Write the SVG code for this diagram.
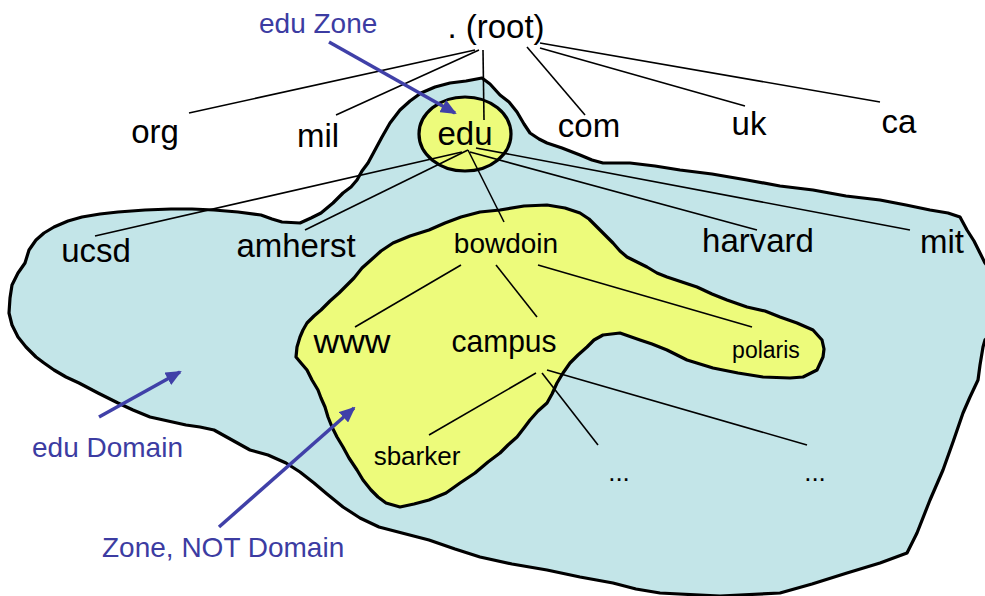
<svg xmlns="http://www.w3.org/2000/svg" width="985" height="596" viewBox="0 0 985 596">
<style>
.lbl{font-family:"Liberation Sans",Arial,sans-serif;font-size:33px;fill:#000;text-anchor:middle}
.in{font-family:"Liberation Sans",Arial,sans-serif;fill:#000;text-anchor:middle}
.note{font-family:"Liberation Sans",Arial,sans-serif;font-size:28px;fill:#3C3CA2}
.edge{stroke:#000;stroke-width:1.6;fill:none}
.arrow{stroke:#4040A8;stroke-width:3.5;fill:none;marker-end:url(#ah)}
.region{stroke:#000;stroke-width:3.2;stroke-linejoin:round}
</style>
<defs>
<marker id="ah" markerUnits="userSpaceOnUse" markerWidth="16" markerHeight="14" refX="14" refY="7" orient="auto">
<path d="M0,0 L16,7 L0,14 Z" fill="#4040A8"/>
</marker>
</defs>
<rect width="985" height="596" fill="#fff"/>
<g id="edu-domain">
<path class="region" fill="#C3E5E8" d="M482,78 L490,84 L500,95 L509,102 L517,112 L524,124 L530,133 L539,139 L547,143 L562,148 L580,155 L592,160 L603,163 L630,163 L655,166 L680,170 L712,174 L747,180 L780,186 L813,190 L846,196 L880,200 L906,205 L930,210 L948,213 L960,217 L967,230 L974,241 L980,253 L985,263 L995,275 L995,330 L985,340 L983,347 L980,365 L978,380 L970,397 L963,413 L953,442 L943,470 L930,500 L917,533 L907,553 L880,563 L847,573 L812,584 L780,593 L720,596 L660,593 L636,589 L613,583 L580,577 L547,570 L512,564 L480,557 L455,549 L429,540 L402,533 L379,527 L360,518 L343,507 L327,494 L314,483 L300,472 L286,463 L268,455 L250,450 L232,440 L214,430 L200,427 L186,425 L168,421 L150,417 L133,410 L118,403 L98,393 L79,383 L66,377 L54,370 L44,363 L36,357 L26,347 L18,337 L12,325 L9,313 L10,298 L12,285 L18,273 L25,263 L29,250 L36,240 L44,233 L54,227 L68,221 L82,217 L100,214 L118,212 L145,210 L171,209 L192,209 L214,210 L238,212 L261,215 L272,219 L282,222 L300,223 L311,218 L321,213 L333,203 L343,193 L351,187 L357,180 L362,171 L368,163 L375,150 L382,137 L390,123 L400,110 L410,101 L421,93 L435,87 L450,83 L466,81 Z"/>
</g>
<g id="bowdoin-zone">
<path class="region" fill="#EDFB7B" d="M296,357 L297,347 L300,337 L303,330 L307,323 L314,316 L321,310 L330,301 L339,293 L347,285 L354,278 L362,268 L371,260 L381,251 L393,243 L410,236 L429,230 L445,223 L461,217 L480,212 L500,210 L524,206 L547,205 L565,208 L580,213 L589,219 L597,227 L605,235 L613,243 L620,251 L627,257 L637,262 L647,267 L657,273 L667,277 L682,282 L697,287 L712,294 L727,300 L747,307 L765,311 L780,317 L797,323 L813,330 L822,340 L824,349 L823,357 L817,370 L803,377 L790,378 L763,377 L738,373 L713,368 L700,364 L687,360 L667,350 L652,344 L640,340 L620,333 L603,335 L594,340 L587,347 L578,355 L570,363 L563,373 L557,383 L552,394 L547,403 L538,411 L530,420 L524,428 L517,437 L508,445 L500,453 L488,462 L475,473 L460,483 L446,493 L429,500 L414,504 L400,507 L386,503 L378,497 L371,490 L363,480 L357,470 L349,458 L343,447 L337,437 L332,427 L328,417 L325,407 L321,398 L318,390 L312,380 L307,370 L301,363 Z"/>
</g>
<g id="edu-zone">
<ellipse class="region" fill="#EDFB7B" cx="465" cy="134" rx="46" ry="37"/>
</g>
<g id="connectors">
<line class="edge" x1="475" y1="50" x2="189" y2="113"/>
<line class="edge" x1="479" y1="50" x2="336" y2="115"/>
<line class="edge" x1="483" y1="50" x2="484" y2="120"/>
<line class="edge" x1="527" y1="47" x2="585" y2="115"/>
<line class="edge" x1="540" y1="48" x2="745" y2="106"/>
<line class="edge" x1="540" y1="43" x2="880" y2="102"/>
<line class="edge" x1="462" y1="152" x2="95" y2="236"/>
<line class="edge" x1="468" y1="150" x2="305" y2="230"/>
<line class="edge" x1="468" y1="150" x2="504" y2="222"/>
<line class="edge" x1="470" y1="152" x2="757" y2="230"/>
<line class="edge" x1="476" y1="148" x2="910" y2="230"/>
<line class="edge" x1="461" y1="265" x2="355" y2="327"/>
<line class="edge" x1="496" y1="265" x2="537" y2="317"/>
<line class="edge" x1="538" y1="265" x2="752" y2="327"/>
<line class="edge" x1="536" y1="373" x2="429" y2="435"/>
<line class="edge" x1="542" y1="373" x2="598" y2="445"/>
<line class="edge" x1="547" y1="370" x2="807" y2="445"/>
</g>
<g id="root"><text class="lbl" x="496" y="38" font-size="34">. (root)</text></g>
<g id="org"><text class="lbl" x="155" y="143">org</text></g>
<g id="mil"><text class="lbl" x="318" y="147">mil</text></g>
<g id="edu"><text class="lbl" x="465" y="145">edu</text></g>
<g id="com"><text class="lbl" x="589" y="137">com</text></g>
<g id="uk"><text class="lbl" x="749" y="135">uk</text></g>
<g id="ca"><text class="lbl" x="899" y="133">ca</text></g>
<g id="ucsd"><text class="lbl" x="96" y="262">ucsd</text></g>
<g id="amherst"><text class="lbl" x="296" y="257">amherst</text></g>
<g id="harvard"><text class="lbl" x="758" y="252">harvard</text></g>
<g id="mit"><text class="lbl" x="942" y="253">mit</text></g>
<g id="bowdoin"><text class="in" x="506" y="253" font-size="28">bowdoin</text></g>
<g id="www"><text class="in" x="352" y="353" font-size="34" textLength="77" lengthAdjust="spacingAndGlyphs">www</text></g>
<g id="campus"><text class="in" x="504" y="352" font-size="32" textLength="105" lengthAdjust="spacingAndGlyphs">campus</text></g>
<g id="polaris"><text class="in" x="766" y="358" font-size="23">polaris</text></g>
<g id="sbarker"><text class="in" x="417" y="465" font-size="26">sbarker</text></g>
<g id="dots1"><text class="in" x="619" y="481" font-size="26">...</text></g>
<g id="dots2"><text class="in" x="815" y="481" font-size="26">...</text></g>
<g id="annotations">
<line class="arrow" x1="329" y1="42" x2="455" y2="113"/>
<line class="arrow" x1="99" y1="417" x2="180" y2="372"/>
<line class="arrow" x1="219" y1="527" x2="354" y2="408"/>
<text class="note" x="259" y="33">edu Zone</text>
<text class="note" x="32" y="457">edu Domain</text>
<text class="note" x="102" y="557" font-size="29">Zone, NOT Domain</text>
</g>
</svg>
